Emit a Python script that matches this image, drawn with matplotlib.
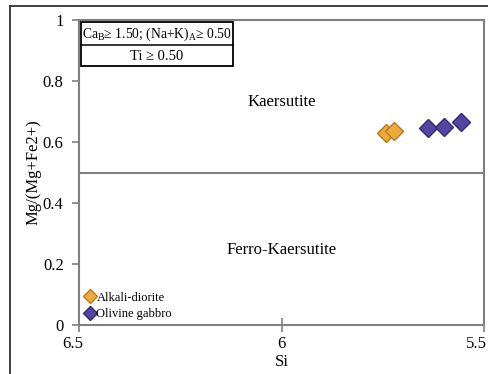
import matplotlib.pyplot as plt
import matplotlib as mpl
from matplotlib.patches import Rectangle
from matplotlib.lines import Line2D
from matplotlib.transforms import ScaledTranslation

mpl.rcParams['font.family'] = ['Liberation Serif', 'DejaVu Serif']
mpl.rcParams['mathtext.fontset'] = 'custom'
mpl.rcParams['mathtext.rm'] = 'Liberation Serif'
mpl.rcParams['mathtext.it'] = 'Liberation Serif:italic'

# Si (apfu) and Mg/(Mg+Fe2+) for each sample
alk_si = [5.742, 5.722]
alk_mg = [0.630, 0.636]
olv_si = [5.638, 5.599, 5.557]
olv_mg = [0.646, 0.650, 0.666]

xticks = [6.5, 6, 5.5]
xlabels = ['6.5', '6', '5.5']
yticks = [0, 0.2, 0.4, 0.6, 0.8, 1]
ylabels = ['0', '0.2', '0.4', '0.6', '0.8', '1']

fig = plt.figure(figsize=(4.88, 3.74), dpi=100)
# outer frame of the figure
fig.add_artist(Line2D([10/488, 1.0], [1-6/374, 1-6/374], color='#303030', lw=1.3))
fig.add_artist(Line2D([10/488, 10/488], [0, 1-6/374], color='#303030', lw=1.3))

ax = fig.add_axes([79/488, 49/374, 405/488, 305/374])
ax.set_xlim(6.5, 5.5)
ax.set_ylim(0, 1)

for s in ax.spines.values():
    s.set_color('#808080')
    s.set_linewidth(1.5)

ax.set_xticks(xticks)
ax.set_xticklabels(xlabels)
ax.set_yticks(yticks)
ax.set_yticklabels(ylabels)
ax.tick_params(axis='x', direction='inout', length=10, width=1.2, color='#808080',
               labelsize=12, pad=3)
ax.tick_params(axis='y', direction='out', length=5, width=1.2, color='#808080',
               labelsize=12, pad=6)

# nudge the end labels like the original sheet does
xl = ax.get_xticklabels()
xl[0].set_transform(xl[0].get_transform() + ScaledTranslation(-6/100, 0, fig.dpi_scale_trans))
xl[-1].set_horizontalalignment('right')
xl[-1].set_transform(xl[-1].get_transform() + ScaledTranslation(3/100, 0, fig.dpi_scale_trans))

ax.axhline(0.5, color='#808080', lw=1.5)

ax.text(6.0, 0.73, 'Kaersutite', ha='center', va='center', fontsize=12)
ax.text(6.0, 0.246, 'Ferro-Kaersutite', ha='center', va='center', fontsize=12)

ax.plot(alk_si, alk_mg, 'D', ms=9.5, mfc='#EDAA3C', mec='#B97A1E', mew=1.0,
        label='Alkali-diorite', zorder=5)
ax.plot(olv_si, olv_mg, 'D', ms=9.5, mfc='#5544A0', mec='#33287A', mew=1.0,
        label='Olivine gabbro', zorder=5)

ax.set_xlabel('Si', fontsize=12, labelpad=1)
ax.set_ylabel('Mg/(Mg+Fe2+)', fontsize=12, labelpad=1)

leg = ax.legend(loc='lower left', frameon=False, fontsize=9, handletextpad=0.1,
                handlelength=0.9, borderaxespad=0.1, borderpad=0.3,
                labelspacing=0.35, markerscale=0.7)

# classification box
ax.add_patch(Rectangle((81/488, 1-66/374), (233-81)/488, (66-22)/374,
                       transform=fig.transFigure, fill=False, ec='black', lw=1.3,
                       zorder=6))
fig.add_artist(Line2D([81/488, 233/488], [1-45/374, 1-45/374], color='black', lw=1.1))
fig.text(157/488, 1-34/374, r'Ca$_\mathrm{B}$≥ 1.50; (Na+K)$_\mathrm{A}$≥ 0.50',
         ha='center', va='center', fontsize=9.8)
fig.text(157/488, 1-56/374, 'Ti ≥ 0.50', ha='center', va='center', fontsize=10.5)

plt.savefig('out.png', dpi=100)
